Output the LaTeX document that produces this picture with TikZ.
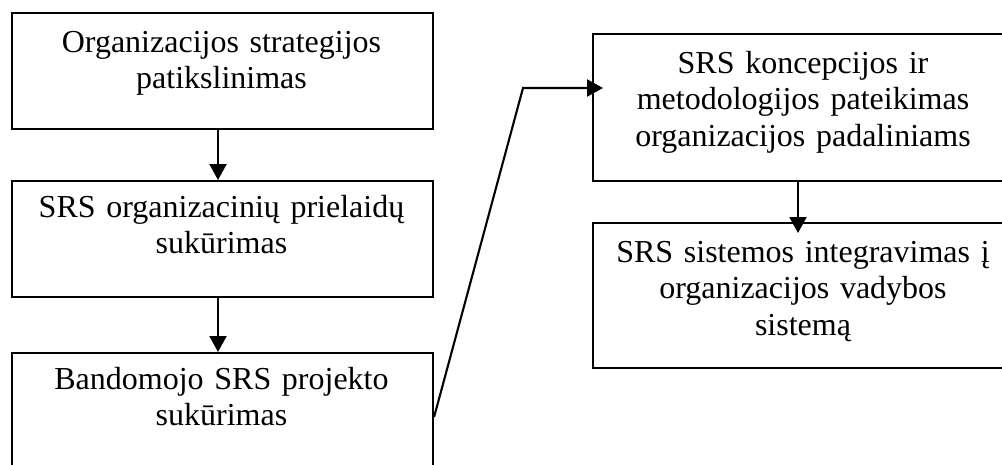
\documentclass[tikz,border=0pt]{standalone}
\usepackage{fontspec}
\setmainfont{Liberation Serif}
\usetikzlibrary{arrows.meta}
\begin{document}
\begin{tikzpicture}[x=1pt,y=-1pt,
  stagebox/.style={draw=black, line width=2.1pt, rectangle, inner sep=0pt, anchor=north west},
  stagetext/.style={anchor=base, align=center, inner sep=0pt, font=\fontsize{32}{36.5}\selectfont},
  flow/.style={line width=2.1pt, -{Triangle[length=16pt,width=17pt]}}]
\useasboundingbox (0,0) rectangle (1002,464);
\clip (0,0) rectangle (1002,464);
% boxes
\node[stagebox, minimum width=421pt, minimum height=116pt] (b1) at (11,12) {};
\node[stagebox, minimum width=421pt, minimum height=116pt] (b2) at (11,180) {};
\node[stagebox, minimum width=421pt, minimum height=160pt] (b3) at (11,352) {};
\node[stagebox, minimum width=422pt, minimum height=147pt] (b4) at (592,33) {};
\node[stagebox, minimum width=422pt, minimum height=145pt] (b5) at (592,222) {};
% texts
\node[stagetext, text width=400pt] (t1) at (221.5,52) {Organizacijos strategijos\\patikslinimas};
\node[stagetext, text width=400pt] (t2) at (221.5,217) {SRS organizacinių prielaidų\\sukūrimas};
\node[stagetext, text width=400pt] (t3) at (221.5,389) {Bandomojo SRS projekto\\sukūrimas};
\node[stagetext, text width=400pt] (t4) at (803,73) {SRS koncepcijos ir\\metodologijos pateikimas\\organizacijos padaliniams};
\node[stagetext, text width=400pt] (t5) at (803,262) {SRS sistemos integravimas į\\organizacijos vadybos\\sistemą};
% connectors
\coordinate (bend) at (523,88);
\coordinate (c12) at (218,0);
\coordinate (c45) at (798,0);
\draw[flow] (b1.south -| c12) -- (b2.north -| c12);
\draw[flow] (b2.south -| c12) -- (b3.north -| c12);
\draw[flow] (b4.south -| c45) -- ([yshift=-11pt]b5.north -| c45);
\draw[flow] ([yshift=-65pt]b3.north east) -- (bend) -- ([xshift=11pt]b4.west |- bend);
\end{tikzpicture}
\end{document}
